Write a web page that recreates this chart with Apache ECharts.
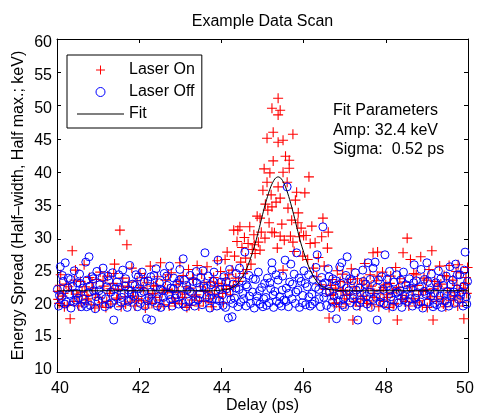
<!DOCTYPE html>
<html>
<head>
<meta charset="utf-8">
<script src="https://cdn.jsdelivr.net/npm/echarts@6/dist/echarts.min.js"></script>
<style>
html,body{margin:0;padding:0;background:#fff;}
#chart{width:480px;height:414px;}
</style>
</head>
<body>
<div id="chart"></div>
<script>
var titleText = 'Example Data Scan';
var xName = 'Delay (ps)';
var yName = 'Energy Spread (Half–width, Half max.; keV)';
var xTicks = [40, 42, 44, 46, 48, 50];
var yTicks = [10, 15, 20, 25, 30, 35, 40, 45, 50, 55, 60];
var fitText = ['Fit Parameters', 'Amp: 32.4 keV', 'Sigma:  0.52 ps'];

var laserOn = [
[40.02,22.1],[40.05,20.3],[40.09,24.6],[40.13,21.4],[40.18,19.8],[40.22,23.2],
[40.28,22.8],[40.32,18.0],[40.37,28.2],[40.41,20.6],[40.45,25.3],[40.48,21.7],
[40.53,19.9],[40.57,23.6],[40.61,22.0],[40.66,26.1],[40.70,20.8],[40.73,21.5],
[40.79,24.2],[40.83,20.1],[40.87,22.6],[40.92,19.6],[40.96,23.9],
[41.01,21.2],[41.05,25.0],[41.10,20.4],[41.14,22.9],[41.19,19.7],[41.23,24.4],
[41.28,21.8],[41.31,20.2],[41.36,23.3],[41.40,26.2],[41.45,20.9],[41.48,22.4],
[41.53,31.3],[41.56,19.8],[41.60,24.1],[41.65,21.3],[41.70,29.1],[41.72,22.7],
[41.78,20.5],[41.82,25.6],[41.86,22.2],[41.90,19.9],[41.95,23.7],[41.98,21.0],
[42.02,24.8],[42.06,20.7],[42.10,22.5],[42.15,19.6],[42.19,23.4],[42.23,21.6],
[42.27,25.9],[42.31,20.3],[42.35,22.9],[42.40,21.2],[42.44,24.3],[42.48,19.8],
[42.52,26.4],[42.56,21.9],[42.60,20.1],[42.64,23.8],[42.69,22.4],[42.73,19.9],
[42.78,24.9],[42.82,21.1],[42.86,20.5],[42.90,23.1],[42.95,22.0],[42.99,26.4],
[43.03,20.2],[43.07,24.5],[43.11,21.7],[43.16,19.7],[43.20,25.4],[43.24,22.6],
[43.28,20.8],[43.32,23.9],[43.36,21.4],[43.41,26.0],[43.45,19.9],[43.49,22.8],
[43.52,24.7],[43.56,20.6],[43.61,22.1],[43.65,25.8],[43.69,21.0],[43.73,23.5],
[43.77,19.8],[43.81,24.2],[43.85,22.9],[43.90,26.7],[43.94,21.3],[43.98,25.1],
[44.01,23.0],[44.05,20.4],[44.09,26.9],[44.12,22.5],[44.14,28.0],[44.18,24.6],[44.22,21.6],
[40.03,20.9],[40.07,23.0],[40.16,21.8],[40.25,20.0],[40.35,22.3],[40.43,23.8],[40.51,21.3],
[40.60,20.4],[40.68,22.8],[40.76,21.0],[40.85,23.4],[40.94,21.6],[41.03,19.9],[41.12,23.7],
[41.21,20.6],[41.30,22.5],[41.38,24.8],[41.47,21.1],[41.58,22.9],[41.67,20.2],[41.75,23.5],
[41.84,21.4],[41.93,20.7],[42.04,22.7],[42.13,24.2],[42.21,20.5],[42.33,21.8],[42.42,23.0],
[42.50,20.8],[42.62,22.3],[42.71,24.6],[42.80,21.9],[42.88,20.3],[42.97,23.6],[43.05,21.2],
[43.14,22.8],[43.22,20.0],[43.30,24.1],[43.39,21.6],[43.47,20.7],[43.58,23.4],[43.67,22.0],
[43.75,20.4],[43.83,21.7],[43.92,23.3],[44.03,21.8],[44.10,24.0],[44.20,22.9],
[44.26,25.3],[44.29,22.9],[44.30,31.3],[44.32,27.4],[44.35,24.1],[44.38,29.6],[44.40,31.3],[44.42,23.6],
[44.45,31.8],[44.47,26.5],[44.50,28.7],[44.53,24.8],[44.56,30.2],[44.59,27.1],[44.62,25.4],
[44.65,29.3],[44.69,31.8],[44.72,26.2],[44.75,28.4],[44.79,30.6],[44.80,29.1],[44.82,27.8],
[44.87,33.4],[44.90,29.5],[44.94,33.1],[44.94,28.3],[44.97,31.0],[45.01,37.3],[45.04,40.5],
[45.06,30.1],[45.07,35.2],[45.11,45.1],[45.11,38.5],[45.13,34.3],[45.16,32.4],[45.18,39.9],
[45.21,36.6],[45.23,34.8],[45.23,49.6],[45.23,31.0],[45.26,46.0],[45.26,41.7],[45.29,30.9],
[45.33,35.5],[45.36,28.6],[45.38,51.1],[45.38,48.6],[45.38,44.5],[45.38,37.8],[45.43,49.3],
[45.43,36.1],[45.43,30.4],[45.47,32.2],[45.50,44.8],[45.50,40.0],[45.50,25.3],[45.53,29.8],
[45.56,42.4],[45.60,38.5],[45.62,34.6],[45.65,41.8],[45.65,40.6],[45.68,30.4],[45.71,32.8],
[45.74,45.7],[45.74,29.5],[45.77,28.1],[45.80,35.8],[45.83,37.0],[45.86,32.4],[45.87,33.9],
[45.90,30.3],[45.94,31.6],[45.98,27.4],[46.00,30.5],[46.03,36.9],[46.06,30.5],[46.10,26.9],
[46.13,39.3],[46.16,29.3],[46.20,31.9],[46.24,25.6],[46.28,29.4],[46.32,24.3],[46.36,27.2],
[46.40,23.1],[46.44,30.3],[46.47,33.1],[46.50,25.9],[46.54,22.4],[46.58,28.6],[46.60,31.0],
[46.62,18.1],[46.66,21.5],[46.70,23.9],[46.74,20.3],[46.78,22.6],[46.82,25.2],
[46.87,19.8],[46.91,22.1],[46.95,24.7],[46.99,21.0],[47.03,20.2],[47.07,23.4],
[47.12,21.7],[47.16,25.5],[47.20,17.8],[47.23,22.8],[47.27,20.5],[47.31,24.0],
[47.37,19.9],[47.41,23.2],[47.45,21.4],[47.49,26.3],[47.53,20.7],[47.57,22.5],
[47.62,24.6],[47.66,20.1],[47.69,27.9],[47.73,21.8],[47.77,23.7],[47.80,28.0],[47.83,19.8],
[47.88,22.3],[47.92,25.0],[47.96,20.6],[48.00,23.1],[48.04,21.2],[48.08,19.7],
[48.12,24.4],[48.16,21.9],[48.20,20.3],[48.24,25.7],[48.28,17.8],[48.31,22.7],
[48.37,20.9],[48.42,27.9],[48.46,23.5],[48.50,21.1],[48.52,30.1],[48.56,19.9],[48.60,26.9],
[48.64,22.2],[48.68,24.8],[48.72,20.4],[48.76,23.0],[48.80,21.6],[48.85,27.3],
[48.89,20.0],[48.93,24.1],[48.97,22.4],[49.01,19.7],[49.05,25.4],[49.09,21.3],
[49.12,28.2],[49.15,17.8],[49.19,23.6],[49.23,20.6],[49.27,22.9],[49.31,25.9],
[49.38,21.0],[49.42,24.5],[49.46,19.8],[49.50,22.6],[49.54,26.0],[49.58,20.7],
[49.63,23.8],[49.67,21.4],[49.71,25.1],[49.75,19.9],[49.76,26.1],[49.79,22.2],[49.83,24.9],
[49.87,20.5],[49.90,18.0],[49.93,23.3],[49.97,21.8],[49.99,25.7],
[46.65,23.0],[46.72,21.7],[46.80,20.4],[46.89,23.6],[46.97,22.3],[47.05,21.5],[47.14,23.9],
[47.22,20.6],[47.29,22.2],[47.39,21.0],[47.47,23.7],[47.55,20.3],[47.64,22.9],[47.71,21.2],
[47.79,24.4],[47.86,20.8],[47.94,22.7],[48.02,21.6],[48.10,23.3],[48.18,20.1],[48.26,22.4],
[48.34,24.0],[48.40,21.5],[48.48,20.6],[48.58,22.8],[48.66,21.0],[48.74,24.6],[48.82,20.7],
[48.91,22.1],[48.99,23.8],[49.07,20.9],[49.17,22.5],[49.25,21.3],[49.34,23.2],[49.40,20.2],
[49.48,24.3],[49.56,21.9],[49.65,20.8],[49.73,23.0],[49.81,21.1],[49.89,22.6],[49.95,24.2]
];

var laserOff = [
[40.01,22.4],[40.04,19.9],[40.08,25.8],[40.11,21.2],[40.15,23.6],[40.20,26.4],[40.23,20.5],
[40.27,24.1],[40.30,21.7],[40.34,19.6],[40.38,22.9],[40.42,25.2],[40.46,20.8],[40.49,23.4],
[40.52,21.1],[40.55,24.7],[40.59,19.8],[40.63,22.6],[40.67,20.3],[40.70,26.5],[40.73,23.8],
[40.76,21.9],[40.78,27.3],[40.81,20.0],[40.85,24.3],[40.89,22.2],[40.93,19.5],[40.97,25.1],
[41.00,20.7],[41.04,23.1],[41.08,21.5],[41.12,25.6],[41.16,19.8],[41.20,22.8],[41.24,24.4],
[41.27,20.2],[41.31,22.0],[41.35,24.9],[41.38,17.8],[41.42,21.3],[41.46,23.5],[41.49,19.9],
[41.52,22.7],[41.56,20.5],[41.60,25.3],[41.63,21.8],[41.67,24.0],[41.71,19.7],[41.74,22.3],
[41.77,26.0],[41.80,20.9],[41.84,23.2],[41.88,21.4],[41.92,24.6],[41.96,19.8],[41.99,22.5],
[42.03,20.3],[42.07,25.0],[42.11,22.1],[42.14,19.9],[42.18,18.0],[42.21,23.7],[42.24,21.2],
[42.28,24.3],[42.30,17.8],[42.33,20.6],[42.37,22.8],[42.41,25.5],[42.45,21.0],[42.49,23.4],
[42.53,19.7],[42.57,22.2],[42.61,24.8],[42.65,20.4],[42.68,23.0],[42.72,21.6],[42.74,25.9],
[42.77,22.6],[42.80,19.9],[42.84,24.1],[42.88,21.1],[42.92,23.3],[42.96,20.2],[42.99,25.4],
[43.02,21.5],[43.07,27.0],[43.10,23.8],[43.13,19.8],[43.17,22.4],[43.21,20.6],[43.24,24.5],
[43.27,21.9],[43.31,23.6],[43.35,19.9],[43.39,25.1],[43.43,20.8],[43.47,22.7],[43.50,24.2],
[43.53,20.1],[43.57,22.9],[43.60,27.9],[43.64,21.3],[43.68,24.4],[43.72,19.6],[43.74,23.1],
[43.78,21.0],[43.82,25.0],[43.86,22.2],[43.89,19.9],[43.92,26.8],[43.95,20.7],[43.99,23.5],
[44.02,21.6],[44.06,24.3],[44.10,19.7],[44.13,22.5],[44.17,18.1],[44.20,25.4],[44.23,20.9],
[44.26,18.3],[44.29,23.2],[44.32,21.1],[44.36,24.8],[44.40,19.8],[44.43,22.4],[44.47,20.5],
[44.51,23.7],[44.54,21.0],[44.57,28.0],[44.60,19.9],[44.63,22.8],[44.67,24.5],[44.71,20.3],
[44.76,22.0],[44.80,19.6],[44.83,23.9],[44.87,21.4],[44.90,25.0],[44.94,20.2],[44.98,22.7],
[45.01,19.8],[45.05,23.3],[45.08,21.2],[45.12,24.1],[45.16,20.4],[45.20,22.5],[45.23,26.4],[45.23,25.3],
[45.27,19.7],[45.30,22.1],[45.34,20.6],[45.38,23.8],[45.42,21.3],[45.46,19.9],[45.49,24.4],
[45.52,20.8],[45.55,26.8],[45.58,22.6],[45.60,37.8],[45.63,19.8],[45.66,23.5],[45.69,26.2],[45.72,21.0],
[45.77,24.7],[45.80,20.3],[45.83,27.9],[45.86,22.3],[45.90,19.7],[45.94,23.6],[45.98,21.5],
[46.01,25.2],[46.05,20.1],[46.09,22.8],[46.12,24.6],[46.16,19.9],[46.20,21.7],[46.23,23.9],
[46.27,20.6],[46.30,25.7],[46.33,27.6],[46.37,22.4],[46.41,19.8],[46.44,24.2],[46.47,31.8],[46.49,21.2],
[46.52,23.4],[46.56,20.0],[46.60,25.5],[46.63,22.1],[46.67,19.6],[46.71,24.0],[46.74,21.4],
[46.77,22.9],[46.80,18.0],[46.84,20.7],[46.88,25.8],[46.91,23.3],[46.93,26.4],[46.97,21.0],
[47.00,19.8],[47.03,24.5],[47.06,27.3],[47.10,22.2],[47.14,20.4],[47.18,23.7],[47.22,21.6],
[47.26,24.9],[47.29,19.9],[47.32,17.8],[47.36,22.6],[47.40,20.8],[47.44,25.3],[47.48,21.9],
[47.51,23.2],[47.54,20.2],[47.57,26.4],[47.60,22.0],[47.63,19.7],[47.69,25.6],[47.74,26.5],
[47.76,21.2],[47.79,17.8],[47.82,23.8],[47.86,20.5],[47.90,24.3],[47.94,22.4],[47.98,27.6],
[48.01,20.0],[48.05,22.9],[48.09,25.1],[48.13,21.3],[48.17,19.8],[48.20,23.5],[48.24,21.8],
[48.27,24.6],[48.31,20.4],[48.35,22.2],[48.39,19.7],[48.43,25.0],[48.46,21.5],[48.49,23.1],
[48.53,20.6],[48.57,24.0],[48.61,22.6],[48.65,19.9],[48.69,26.1],[48.72,21.1],[48.74,23.7],
[48.78,20.2],[48.82,22.8],[48.86,25.4],[48.90,19.6],[48.94,23.9],[48.97,21.7],[49.00,26.4],
[49.03,20.5],[49.07,22.3],[49.11,24.7],[49.15,19.8],[49.19,21.9],[49.22,23.4],[49.24,20.1],
[49.28,25.2],[49.32,21.4],[49.36,19.7],[49.40,23.0],[49.44,20.7],[49.47,24.4],[49.50,22.1],
[49.53,19.9],[49.56,25.8],[49.60,21.6],[49.63,23.8],[49.67,20.3],[49.70,26.2],[49.74,22.5],
[49.77,20.9],[49.80,24.6],[49.84,22.0],[49.88,19.9],[49.91,25.3],[49.93,28.0],[49.96,21.3],[49.99,23.6],
[40.06,21.5],[40.13,24.5],[40.19,20.2],[40.26,22.6],[40.33,23.9],[40.40,20.5],[40.48,21.8],
[40.56,23.3],[40.64,21.0],[40.72,19.8],[40.80,22.9],[40.88,24.0],[40.95,21.3],[41.02,22.2],
[41.10,24.2],[41.18,21.0],[41.26,23.7],[41.33,20.4],[41.41,22.5],[41.50,24.6],[41.58,21.2],
[41.66,22.9],[41.73,20.6],[41.82,21.7],[41.90,23.0],[41.98,24.3],[42.05,21.9],[42.12,23.5],
[42.20,20.7],[42.29,22.0],[42.36,24.5],[42.44,19.9],[42.51,22.4],[42.59,21.2],[42.67,24.4],
[42.76,20.9],[42.83,22.5],[42.91,21.6],[42.98,23.8],[43.06,20.3],[43.15,23.0],[43.23,22.1],
[43.32,20.6],[43.40,23.4],[43.48,21.7],[43.55,25.2],[43.63,22.6],[43.71,21.1],[43.80,23.6],
[43.88,20.9],[43.97,22.4],[44.04,20.0],[44.12,23.6],[44.19,21.9],[44.28,20.3],[44.35,22.6],
[44.44,25.6],[44.52,21.8],[44.60,23.1],[44.68,21.4],[44.77,24.0],[44.85,20.6],[44.93,22.2],
[45.03,21.0],[45.10,20.0],[45.18,23.4],[45.26,21.6],[45.33,24.6],[45.41,20.3],[45.48,22.3],
[45.57,20.6],[45.64,21.8],[45.73,23.2],[45.81,22.0],[45.89,24.1],[45.97,20.4],[46.04,23.3],
[46.13,21.3],[46.21,20.2],[46.29,22.7],[46.38,21.0],[46.46,23.1],[46.55,21.9],[46.62,24.3],
[46.70,20.5],[46.79,23.7],[46.87,21.6],[46.95,20.1],[47.04,22.6],[47.12,24.0],[47.20,21.0],
[47.28,22.3],[47.37,20.4],[47.45,23.6],[47.53,21.4],[47.62,23.9],[47.70,20.9],[47.78,22.7],
[47.87,21.3],[47.95,20.3],[48.03,23.9],[48.11,22.3],[48.19,20.8],[48.28,22.0],[48.36,23.8],
[48.44,20.9],[48.52,22.4],[48.60,21.0],[48.68,23.4],[48.77,21.9],[48.85,20.5],[48.93,22.1],
[49.02,23.6],[49.10,21.4],[49.18,20.3],[49.26,22.8],[49.34,24.0],[49.42,21.7],[49.50,20.4],
[49.58,23.1],[49.66,22.0],[49.74,24.6],[49.82,21.5],[49.90,22.9],[49.97,20.2]
];

var fitCurve = [
[40.0,22.2],[43.8,22.2],[44.0,22.3],[44.2,22.5],[44.4,23.3],[44.6,25.3],[44.8,28.8],
[44.9,31.1],[45.0,33.6],[45.1,35.9],[45.2,37.8],[45.3,39.0],[45.38,39.3],[45.46,39.0],
[45.56,37.8],[45.66,35.9],[45.76,33.6],[45.86,31.1],[45.96,28.8],[46.16,25.3],[46.36,23.3],
[46.56,22.5],[46.76,22.3],[47.0,22.2],[50.0,22.2]
];

var FONT = 'Liberation Sans, Arial, Helvetica, sans-serif';
var FS = 16;
var plusPath = 'path://M0,5L10,5M5,0L5,10';

var chart = echarts.init(document.getElementById('chart'), null, {renderer: 'canvas'});

var lineOn = {show: true, lineStyle: {color: '#000', width: 1}};
var tickIn = {show: true, inside: true, length: 4, lineStyle: {color: '#000', width: 1}};
var noSplit = {show: false};
var labelStyle = {fontFamily: FONT, fontSize: FS, color: '#000'};

var option = {
  animation: false,
  backgroundColor: '#fff',
  title: {
    text: titleText, left: 262.5, textAlign: 'center', top: 14, padding: 0,
    textStyle: {fontFamily: FONT, fontSize: FS, fontWeight: 'normal', color: '#000'}
  },
  grid: {left: 57, right: 12, top: 39, bottom: 42, containLabel: false, outerBoundsMode: 'none'},
  legend: {
    left: 67, top: 55,
    orient: 'vertical',
    padding: [7, 7, 6, 10],
    itemGap: 6,
    itemWidth: 47,
    itemHeight: 9,
    borderColor: '#000', borderWidth: 1, borderRadius: 0,
    backgroundColor: '#fff',
    itemStyle: {borderWidth: 1},
    textStyle: {fontFamily: FONT, fontSize: FS, color: '#000'},
    data: [
      {name: 'Laser On'},
      {name: 'Laser Off'},
      {name: 'Fit', icon: 'path://M0,0L47,0L47,1L0,1Z', itemStyle: {color: '#000', borderWidth: 0}}
    ]
  },
  xAxis: [
    {
      type: 'value', min: xTicks[0], max: xTicks[xTicks.length - 1], interval: 2,
      axisLine: lineOn, axisTick: tickIn, splitLine: noSplit,
      axisLabel: {show: false},
      name: xName, nameLocation: 'middle', nameGap: 26, nameMoveOverlap: false,
      nameTextStyle: labelStyle
    },
    {
      type: 'value', position: 'top', min: xTicks[0], max: xTicks[xTicks.length - 1], interval: 2,
      axisLine: lineOn, axisTick: tickIn, splitLine: noSplit, axisLabel: {show: false}
    },
    {
      type: 'value', position: 'bottom', min: 39.926, max: 50.074,
      axisLine: {show: false}, axisTick: {show: false}, splitLine: noSplit,
      axisLabel: Object.assign({margin: 9, customValues: xTicks, showMinLabel: true, showMaxLabel: true}, labelStyle)
    }
  ],
  yAxis: [
    {
      type: 'value', min: yTicks[0], max: yTicks[yTicks.length - 1], interval: 5,
      axisLine: lineOn, axisTick: tickIn, splitLine: noSplit,
      axisLabel: {show: false},
      name: yName, nameLocation: 'middle', nameGap: 30, nameMoveOverlap: false,
      nameTextStyle: labelStyle
    },
    {
      type: 'value', position: 'right', min: yTicks[0], max: yTicks[yTicks.length - 1], interval: 5,
      axisLine: lineOn, axisTick: tickIn, splitLine: noSplit, axisLabel: {show: false}
    },
    {
      type: 'value', position: 'left', min: 9.62, max: 60.61,
      axisLine: {show: false}, axisTick: {show: false}, splitLine: noSplit,
      axisLabel: Object.assign({margin: 5, customValues: yTicks, showMinLabel: true, showMaxLabel: true}, labelStyle)
    }
  ],
  graphic: fitText.map(function (t, i) {
    return {
      type: 'text', left: 333, top: 103 + i * 19.5, silent: true, z: 100,
      style: {text: t, fontFamily: FONT, fontSize: FS, fill: '#000'}
    };
  }),
  series: [
    {
      name: 'Laser On', type: 'scatter', data: laserOn, xAxisIndex: 0, yAxisIndex: 0,
      symbol: plusPath, symbolSize: 10,
      itemStyle: {color: 'rgba(255,0,0,0)', borderColor: '#ff0000', borderWidth: 1.1, opacity: 1},
      emphasis: {disabled: true}, z: 2
    },
    {
      name: 'Laser Off', type: 'scatter', data: laserOff, xAxisIndex: 0, yAxisIndex: 0,
      symbol: 'circle', symbolSize: 8,
      itemStyle: {color: 'rgba(0,0,255,0)', borderColor: '#0000ff', borderWidth: 1, opacity: 1},
      emphasis: {disabled: true}, z: 3
    },
    {
      name: 'Fit', type: 'line', data: fitCurve, xAxisIndex: 0, yAxisIndex: 0, smooth: 0.3,
      symbol: 'none', showSymbol: false,
      lineStyle: {color: '#000', width: 1},
      itemStyle: {color: '#000'},
      emphasis: {disabled: true}, z: 4
    }
  ]
};
chart.setOption(option);
</script>
</body>
</html>
